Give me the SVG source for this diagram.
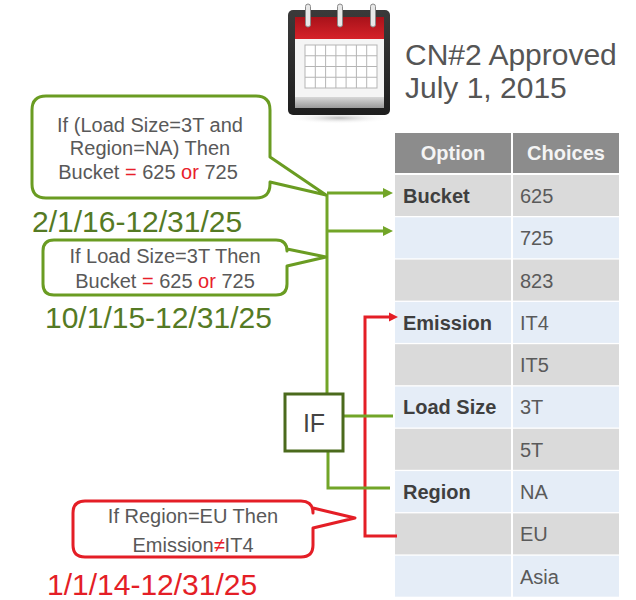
<svg xmlns="http://www.w3.org/2000/svg" width="636" height="600" viewBox="0 0 636 600">
<style>
text{font-family:"Liberation Sans",Arial,sans-serif}
.ct{font-size:20px;fill:#595959;text-anchor:middle}
.red{fill:#e8202a}
.hd{font-size:20px;font-weight:bold;fill:#f4f4f4;text-anchor:middle}
.lb{font-size:20px;font-weight:bold;fill:#3f3f3f}
.vl{font-size:20px;fill:#5a5a5a}
.g{fill:#dadada}
.b{fill:#e5edf7}
.gl{fill:none;stroke:#72a528;stroke-width:3}
.rl{fill:none;stroke:#e41e26;stroke-width:3}
.date{font-size:30px}
</style>
<defs>
<marker id="ag" viewBox="0 0 10 10" refX="0" refY="5" markerWidth="10" markerHeight="11" markerUnits="userSpaceOnUse" orient="auto"><path d="M0,0 L10,5 L0,10 z" fill="#72a528"/></marker>
<marker id="ar" viewBox="0 0 10 10" refX="0" refY="5" markerWidth="9" markerHeight="10" markerUnits="userSpaceOnUse" orient="auto"><path d="M0,0 L10,5 L0,10 z" fill="#e41e26"/></marker>
<linearGradient id="redg" x1="0" y1="0" x2="0" y2="1"><stop offset="0" stop-color="#a8121a"/><stop offset="1" stop-color="#d62229"/></linearGradient>
<linearGradient id="frg" x1="0" y1="0" x2="0" y2="1"><stop offset="0" stop-color="#3a3a3a"/><stop offset="1" stop-color="#1e1e1e"/></linearGradient>
<linearGradient id="btg" x1="0" y1="0" x2="0" y2="1"><stop offset="0" stop-color="#d8d8d8"/><stop offset="1" stop-color="#9a9a9a"/></linearGradient>
<radialGradient id="shg"><stop offset="0" stop-color="#bdbdbd"/><stop offset="1" stop-color="#ffffff" stop-opacity="0"/></radialGradient>
</defs>

<g id="calendar">
<ellipse cx="339" cy="118" rx="52" ry="6" fill="url(#shg)"/>
<rect x="288" y="10" width="102" height="105" rx="5" fill="url(#frg)"/>
<rect x="295" y="17" width="89" height="22" fill="url(#redg)"/>
<rect x="295" y="39" width="89" height="60" fill="#f5f5f5"/>
<rect x="295" y="97" width="89" height="11" fill="url(#btg)"/>
<g fill="#ffffff" stroke="#b5b5b5" stroke-width="1">
<rect x="305" y="45" width="72" height="43"/>
<path d="M315.3,45V88M325.6,45V88M335.9,45V88M346.1,45V88M356.4,45V88M366.7,45V88M305,55.75H377M305,66.5H377M305,77.25H377" fill="none"/>
</g>
<g fill="#e8e8e8" stroke="#8a8a8a" stroke-width="1">
<rect x="305.5" y="4" width="5" height="23" rx="2.5"/>
<rect x="337.5" y="4" width="5" height="23" rx="2.5"/>
<rect x="370.5" y="4" width="5" height="23" rx="2.5"/>
</g>
</g>

<g id="title">
<text x="405" y="65" font-size="30" fill="#555">CN#2 Approved</text>
<text x="405" y="98" font-size="30" fill="#555">July 1, 2015</text>
</g>

<g id="table">
<rect x="395" y="133" width="116" height="40" fill="#8c8c8c"/>
<rect x="513" y="133" width="106" height="40" fill="#8c8c8c"/>
<text class="hd" x="453" y="160">Option</text>
<text class="hd" x="566" y="160">Choices</text>
<g>
<rect class="g" x="395" y="175" width="116" height="41"/><rect class="g" x="513" y="175" width="106" height="41"/>
<rect class="b" x="395" y="217.3" width="116" height="41"/><rect class="b" x="513" y="217.3" width="106" height="41"/>
<rect class="g" x="395" y="259.6" width="116" height="41"/><rect class="g" x="513" y="259.6" width="106" height="41"/>
<rect class="b" x="395" y="301.9" width="116" height="41"/><rect class="b" x="513" y="301.9" width="106" height="41"/>
<rect class="g" x="395" y="344.2" width="116" height="41"/><rect class="g" x="513" y="344.2" width="106" height="41"/>
<rect class="b" x="395" y="386.5" width="116" height="41"/><rect class="b" x="513" y="386.5" width="106" height="41"/>
<rect class="g" x="395" y="428.8" width="116" height="41"/><rect class="g" x="513" y="428.8" width="106" height="41"/>
<rect class="b" x="395" y="471.1" width="116" height="41"/><rect class="b" x="513" y="471.1" width="106" height="41"/>
<rect class="g" x="395" y="513.4" width="116" height="41"/><rect class="g" x="513" y="513.4" width="106" height="41"/>
<rect class="b" x="395" y="555.7" width="116" height="41"/><rect class="b" x="513" y="555.7" width="106" height="41"/>
</g>
<text class="lb" x="403" y="203">Bucket</text>
<text class="lb" x="403" y="330">Emission</text>
<text class="lb" x="403" y="414" font-size="18">Load Size</text>
<text class="lb" x="403" y="499">Region</text>
<text class="vl" x="520" y="203">625</text>
<text class="vl" x="520" y="245">725</text>
<text class="vl" x="520" y="288">823</text>
<text class="vl" x="520" y="330">IT4</text>
<text class="vl" x="520" y="372">IT5</text>
<text class="vl" x="520" y="414">3T</text>
<text class="vl" x="520" y="457">5T</text>
<text class="vl" x="520" y="499">NA</text>
<text class="vl" x="520" y="541">EU</text>
<text class="vl" x="520" y="584">Asia</text>
</g>

<g id="connectors">
<path class="rl" d="M397,536 H365 V317 H389" marker-end="url(#ar)"/>
<path class="gl" d="M327,194 V394"/>
<path class="gl" d="M327,193 H383" marker-end="url(#ag)"/>
<path class="gl" d="M327,231 H383" marker-end="url(#ag)"/>
<path class="gl" d="M343,416 H393"/>
<path class="gl" d="M328,451 V488 H390"/>
</g>

<g id="rule1">
<path d="M46,96 H256 Q270,96 270,110 V157 L326,195 L270,182 V184 Q270,198 256,198 H46 Q32,198 32,184 V110 Q32,96 46,96 Z" fill="#fff" stroke="#6a9c22" stroke-width="3" stroke-linejoin="round"/>
<text class="ct" x="150" y="132">If (Load Size=3T and</text>
<text class="ct" x="150" y="155">Region=NA) Then</text>
<text class="ct" x="148" y="179">Bucket <tspan class="red">=</tspan> 625 <tspan class="red">or</tspan> 725</text>
<text class="date" x="32" y="232" fill="#557a24">2/1/16-12/31/25</text>
</g>

<g id="rule2">
<path d="M54,240 H276 Q287,240 287,251 V249 L326,257 L287,266 V284 Q287,295 276,295 H54 Q43,295 43,284 V251 Q43,240 54,240 Z" fill="#fff" stroke="#6a9c22" stroke-width="3" stroke-linejoin="round"/>
<text class="ct" x="165" y="263">If Load Size=3T Then</text>
<text class="ct" x="165" y="288">Bucket <tspan class="red">=</tspan> 625 <tspan class="red">or</tspan> 725</text>
<text class="date" x="45" y="328" fill="#557a24">10/1/15-12/31/25</text>
</g>

<g id="ifnode">
<rect x="285" y="394" width="58" height="57" fill="#fff" stroke="#4b6a1c" stroke-width="3"/>
<text x="314" y="432" font-size="25" fill="#444" text-anchor="middle">IF</text>
</g>

<g id="rule3">
<path d="M85,501 H301 Q313,501 313,513 V508 L355,518 L313,528 V545 Q313,557 301,557 H85 Q73,557 73,545 V513 Q73,501 85,501 Z" fill="#fff" stroke="#e41e26" stroke-width="3" stroke-linejoin="round"/>
<text class="ct" x="193" y="523">If Region=EU Then</text>
<text class="ct" x="193" y="552">Emission<tspan class="red">≠</tspan>IT4</text>
<text class="date" x="47" y="595" fill="#e41e26">1/1/14-12/31/25</text>
</g>
</svg>
